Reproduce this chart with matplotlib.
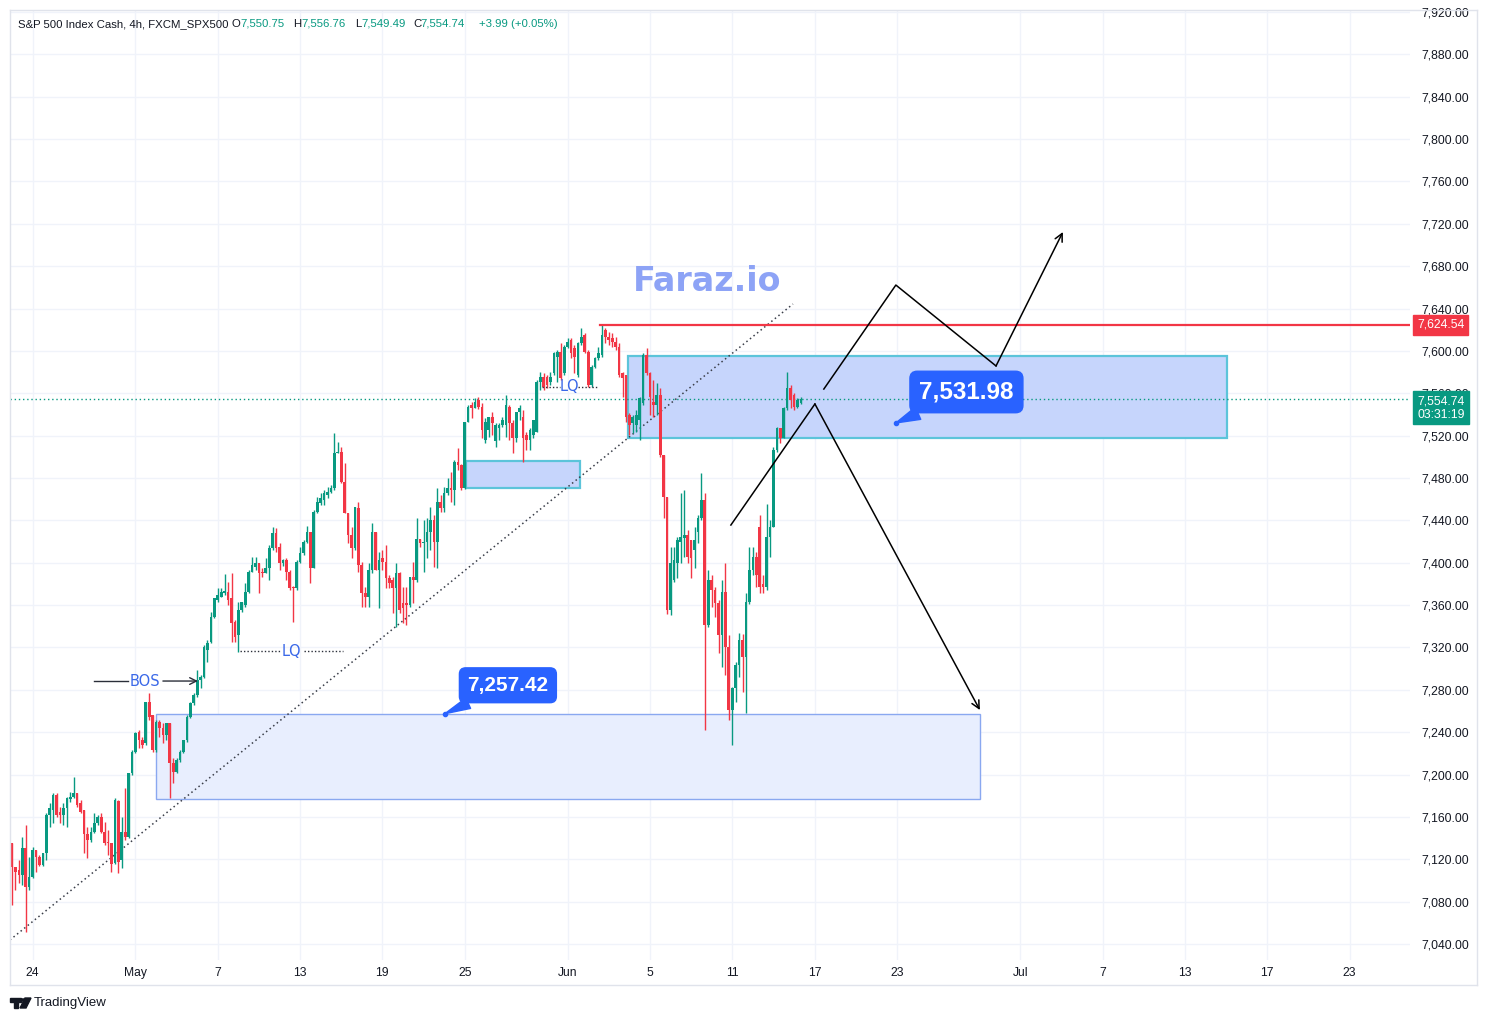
import matplotlib
matplotlib.use("Agg")
import matplotlib.pyplot as plt
import matplotlib.transforms as mtransforms
from matplotlib.patches import Rectangle, Polygon

# ---------------- data (4h candles, index 0 = Apr 23) ----------------
opens = [
    7135.0, 7113.0, 7109.9, 7105.0, 7130.3, 7094.0, 7103.6, 7128.7, 7122.4, 7114.6,
    7125.6, 7161.8, 7166.5, 7180.7, 7164.9, 7161.8, 7168.1, 7176.6, 7178.5, 7182.2,
    7172.8, 7166.5, 7143.8, 7138.2, 7146.0, 7153.9, 7159.6, 7146.0, 7136.6, 7135.0,
    7116.1, 7175.3, 7119.3, 7146.0, 7141.3, 7201.2, 7221.6, 7240.5, 7232.6, 7229.5,
    7268.8, 7256.2, 7223.2, 7249.9, 7243.7, 7237.4, 7248.4, 7210.6, 7202.7, 7213.8,
    7221.6, 7232.6, 7254.7, 7267.3, 7275.1, 7289.3, 7292.4, 7317.6, 7325.5, 7349.1,
    7364.8, 7368.0, 7371.1, 7372.7, 7366.4, 7344.4, 7331.8, 7355.4, 7360.1, 7372.7,
    7391.6, 7396.3, 7399.5, 7391.6, 7390.0, 7394.8, 7413.6, 7427.8, 7415.2, 7399.5,
    7402.7, 7391.6, 7377.5, 7376.0, 7401.1, 7408.9, 7420.0, 7429.4, 7394.8, 7448.3,
    7456.1, 7459.3, 7464.0, 7467.1, 7470.3, 7503.3, 7504.8, 7476.5, 7446.6, 7426.2,
    7413.6, 7451.3, 7397.8, 7371.1, 7368.0, 7393.1, 7429.3, 7393.1, 7404.1, 7401.0,
    7385.3, 7383.7, 7375.8, 7390.0, 7361.7, 7361.7, 7360.0, 7386.8, 7383.7, 7422.1,
    7418.3, 7419.9, 7429.3, 7440.3, 7419.9, 7457.6, 7451.3, 7465.5, 7470.3, 7468.6,
    7495.4, 7492.0, 7470.3, 7533.2, 7548.9, 7545.7, 7553.6, 7547.3, 7516.0, 7525.3,
    7537.9, 7515.0, 7527.0, 7530.0, 7530.0, 7547.3, 7531.6, 7517.4, 7542.6, 7537.9,
    7520.6, 7515.8, 7520.6, 7523.7, 7570.9, 7575.7, 7575.7, 7570.9, 7578.8, 7594.5,
    7599.3, 7578.8, 7604.0, 7610.3, 7602.4, 7577.2, 7607.1, 7615.0, 7599.3, 7567.8,
    7585.1, 7593.0, 7596.1, 7619.7, 7613.4, 7611.9, 7608.7, 7604.0, 7578.8, 7577.2,
    7539.4, 7531.6, 7530.0, 7534.7, 7550.5, 7596.1, 7578.8, 7552.0, 7548.9, 7558.3,
    7501.7, 7462.4, 7355.4, 7383.7, 7399.5, 7419.9, 7423.0, 7426.2, 7421.5, 7412.0,
    7429.3, 7441.9, 7459.2, 7341.2, 7383.7, 7374.3, 7361.7, 7331.8, 7372.7, 7320.8,
    7261.0, 7281.4, 7303.5, 7327.1, 7311.3, 7363.3, 7393.1, 7405.7, 7434.1, 7380.0,
    7377.5, 7424.6, 7434.1, 7506.4, 7526.9, 7517.4, 7545.7, 7564.6, 7558.3, 7547.3,
    7550.75,
]
highs = [
    7135.0, 7113.0, 7119.3, 7141.3, 7152.3, 7122.4, 7131.9, 7128.7, 7124.0, 7125.6,
    7163.3, 7172.8, 7182.2, 7182.2, 7169.6, 7172.8, 7179.1, 7183.8, 7198.0, 7182.2,
    7175.9, 7166.5, 7150.8, 7150.8, 7163.3, 7161.8, 7163.3, 7155.5, 7147.6, 7135.0,
    7177.5, 7175.9, 7160.2, 7187.0, 7201.2, 7223.2, 7240.5, 7242.0, 7235.8, 7268.8,
    7276.7, 7256.2, 7251.5, 7251.5, 7248.4, 7248.4, 7249.0, 7215.3, 7215.3, 7223.2,
    7233.0, 7256.2, 7268.8, 7276.7, 7298.7, 7294.0, 7322.3, 7327.1, 7353.8, 7366.4,
    7375.8, 7375.9, 7389.4, 7382.2, 7390.0, 7346.0, 7363.3, 7363.3, 7380.6, 7393.2,
    7405.8, 7405.8, 7399.5, 7394.8, 7404.2, 7416.8, 7434.1, 7432.5, 7418.3, 7404.0,
    7404.2, 7393.2, 7378.0, 7402.7, 7415.2, 7421.5, 7434.7, 7429.4, 7449.8, 7462.4,
    7465.6, 7468.7, 7471.9, 7473.4, 7522.2, 7514.3, 7509.6, 7493.8, 7446.6, 7434.1,
    7452.9, 7457.6, 7401.0, 7377.4, 7399.4, 7437.2, 7429.3, 7410.5, 7412.0, 7416.7,
    7388.4, 7386.8, 7399.4, 7391.5, 7377.4, 7377.4, 7386.8, 7401.0, 7442.5, 7422.1,
    7440.3, 7441.9, 7452.9, 7445.0, 7470.3, 7463.9, 7471.8, 7479.7, 7486.0, 7497.0,
    7508.0, 7493.0, 7533.2, 7548.9, 7552.0, 7555.2, 7556.8, 7551.0, 7536.3, 7537.9,
    7542.6, 7531.6, 7531.6, 7537.9, 7558.4, 7548.9, 7534.7, 7542.6, 7548.9, 7544.2,
    7523.7, 7526.9, 7534.7, 7572.5, 7580.4, 7578.8, 7577.0, 7580.4, 7599.3, 7600.8,
    7607.1, 7605.6, 7611.9, 7611.9, 7605.6, 7608.7, 7621.3, 7616.6, 7600.8, 7586.7,
    7594.5, 7604.0, 7624.5, 7621.3, 7618.2, 7616.6, 7613.4, 7607.1, 7580.4, 7577.2,
    7541.0, 7539.4, 7544.2, 7556.8, 7597.7, 7602.4, 7580.4, 7572.5, 7569.3, 7564.6,
    7501.7, 7462.4, 7415.2, 7415.2, 7424.6, 7465.5, 7468.6, 7430.9, 7421.5, 7434.1,
    7445.0, 7484.4, 7465.5, 7393.1, 7388.4, 7377.0, 7364.8, 7383.7, 7399.5, 7331.8,
    7283.0, 7306.6, 7333.4, 7333.0, 7371.1, 7415.2, 7415.2, 7410.5, 7445.0, 7388.0,
    7455.2, 7440.3, 7509.6, 7528.5, 7526.9, 7547.3, 7580.4, 7567.8, 7559.9, 7555.2,
    7556.76,
]
lows = [
    7076.8, 7091.0, 7097.3, 7095.7, 7051.6, 7091.0, 7102.0, 7108.3, 7113.6, 7113.6,
    7119.3, 7150.8, 7153.9, 7160.2, 7153.9, 7152.3, 7150.8, 7174.4, 7177.5, 7169.6,
    7163.3, 7125.6, 7120.9, 7136.6, 7144.5, 7152.3, 7144.5, 7133.5, 7124.0, 7108.3,
    7115.5, 7106.7, 7111.4, 7138.2, 7139.7, 7199.6, 7220.0, 7224.8, 7224.8, 7227.9,
    7251.5, 7221.6, 7221.6, 7235.8, 7230.0, 7233.0, 7177.6, 7191.7, 7201.0, 7212.2,
    7220.0, 7231.1, 7253.1, 7265.7, 7273.6, 7281.4, 7291.0, 7306.6, 7323.9, 7347.5,
    7363.0, 7368.0, 7369.6, 7360.1, 7325.5, 7325.5, 7316.1, 7353.9, 7358.6, 7371.1,
    7391.6, 7393.2, 7371.1, 7386.9, 7390.0, 7383.8, 7412.0, 7410.5, 7393.2, 7397.0,
    7383.8, 7374.3, 7344.4, 7374.3, 7399.5, 7407.3, 7418.4, 7380.6, 7394.8, 7446.7,
    7454.6, 7454.6, 7460.9, 7465.6, 7468.7, 7503.3, 7474.9, 7446.6, 7418.3, 7404.1,
    7412.0, 7391.5, 7358.5, 7358.5, 7358.5, 7390.0, 7393.1, 7356.9, 7393.1, 7375.8,
    7375.8, 7352.2, 7339.6, 7352.2, 7342.8, 7341.2, 7358.5, 7361.7, 7382.1, 7415.2,
    7391.5, 7404.1, 7412.0, 7396.3, 7394.7, 7448.2, 7448.2, 7464.0, 7457.6, 7454.5,
    7488.0, 7468.6, 7470.0, 7533.2, 7536.3, 7545.7, 7545.0, 7517.4, 7512.7, 7519.0,
    7520.6, 7509.6, 7515.8, 7528.5, 7519.0, 7515.8, 7503.3, 7514.3, 7534.7, 7495.4,
    7506.4, 7506.4, 7518.0, 7523.7, 7563.0, 7563.0, 7565.0, 7568.0, 7577.2, 7570.9,
    7572.5, 7577.2, 7602.4, 7593.0, 7578.8, 7575.7, 7605.6, 7597.7, 7566.2, 7566.2,
    7583.5, 7591.4, 7594.5, 7607.1, 7605.6, 7604.0, 7600.8, 7575.7, 7556.8, 7533.2,
    7520.6, 7522.2, 7523.7, 7515.8, 7548.9, 7577.2, 7539.4, 7537.9, 7539.4, 7500.1,
    7441.9, 7352.0, 7350.6, 7382.2, 7385.3, 7399.5, 7405.7, 7399.5, 7385.3, 7394.7,
    7418.3, 7440.3, 7242.1, 7339.6, 7358.5, 7349.1, 7314.5, 7301.9, 7294.0, 7251.5,
    7227.9, 7268.8, 7292.4, 7278.3, 7257.8, 7361.0, 7388.4, 7377.5, 7371.1, 7371.1,
    7374.3, 7405.7, 7434.1, 7504.8, 7512.7, 7517.4, 7544.2, 7545.7, 7544.2, 7545.7,
    7549.49,
]
closes = [
    7113.0, 7108.3, 7105.1, 7130.3, 7094.1, 7103.6, 7128.7, 7122.4, 7114.6, 7125.6,
    7161.8, 7168.1, 7180.7, 7161.8, 7161.8, 7168.1, 7177.5, 7179.1, 7182.2, 7171.2,
    7164.9, 7143.8, 7138.2, 7146.0, 7153.9, 7160.2, 7146.0, 7135.7, 7135.0, 7115.5,
    7175.9, 7117.7, 7146.0, 7140.7, 7201.1, 7221.6, 7238.9, 7232.6, 7227.9, 7268.8,
    7254.7, 7223.2, 7249.9, 7243.7, 7237.4, 7248.4, 7210.6, 7202.7, 7213.8, 7221.6,
    7232.6, 7254.7, 7267.3, 7275.1, 7289.3, 7292.4, 7320.8, 7323.9, 7349.1, 7366.4,
    7369.5, 7372.7, 7373.7, 7364.9, 7343.5, 7330.3, 7355.4, 7363.3, 7372.7, 7391.6,
    7397.9, 7399.5, 7390.0, 7390.0, 7394.8, 7413.6, 7427.8, 7413.6, 7399.5, 7402.7,
    7391.6, 7375.9, 7376.0, 7401.1, 7408.9, 7420.0, 7429.4, 7394.8, 7448.3, 7457.7,
    7460.8, 7465.6, 7467.1, 7470.3, 7503.3, 7504.8, 7476.5, 7446.6, 7426.2, 7413.6,
    7452.9, 7397.8, 7371.1, 7368.0, 7393.1, 7429.3, 7393.1, 7402.6, 7401.0, 7385.3,
    7380.5, 7375.8, 7390.0, 7355.4, 7356.9, 7360.0, 7386.8, 7383.7, 7422.1, 7418.3,
    7419.9, 7429.3, 7440.3, 7419.9, 7457.6, 7451.3, 7465.5, 7470.3, 7468.6, 7495.4,
    7492.0, 7470.3, 7533.2, 7547.3, 7545.7, 7552.0, 7547.3, 7525.3, 7533.2, 7537.9,
    7531.6, 7530.0, 7530.0, 7534.7, 7548.9, 7531.6, 7517.4, 7542.6, 7545.7, 7517.4,
    7515.8, 7525.3, 7534.7, 7570.9, 7575.7, 7566.2, 7567.8, 7575.7, 7597.7, 7599.3,
    7574.1, 7604.0, 7608.7, 7597.7, 7594.5, 7607.1, 7613.4, 7599.3, 7567.8, 7585.1,
    7593.0, 7597.7, 7615.0, 7613.4, 7610.3, 7608.7, 7604.0, 7577.2, 7574.1, 7537.9,
    7530.0, 7537.9, 7539.4, 7555.2, 7596.1, 7578.8, 7556.8, 7548.9, 7558.3, 7501.7,
    7462.4, 7355.4, 7399.5, 7402.6, 7421.5, 7424.6, 7426.2, 7405.7, 7404.1, 7421.5,
    7441.9, 7459.2, 7341.2, 7383.7, 7374.3, 7361.7, 7331.8, 7372.7, 7320.8, 7261.0,
    7281.4, 7303.5, 7327.1, 7311.3, 7363.3, 7393.1, 7405.7, 7388.4, 7377.5, 7377.5,
    7424.6, 7434.1, 7506.4, 7526.9, 7517.4, 7545.7, 7564.6, 7553.6, 7547.3, 7553.6,
    7554.74,
]

# time axis: trading-day number of each label (6 candles per trading day)
tick_days = [1, 6, 10, 14, 18, 22, 27, 31, 35, 39, 43, 49, 53, 57, 61, 65]
tick_labels = ["24", "May", "7", "13", "19", "25", "Jun", "5", "11", "17", "23",
               "Jul", "7", "13", "17", "23"]
price_ticks = list(range(7040, 7921, 40))

# levels and drawings (candle index, price)
last_price = 7554.74
resistance = 7624.54
resistance_start = 171.4
upper_zone = (179.6, 354.2, 7517.8, 7595.2)
small_zone = (132.4, 165.6, 7470.6, 7496.1)
lower_zone = (42.0, 282.2, 7176.9, 7257.42)
trend_line = [(-0.6, 7043.8), (227.7, 7644.3)]
path_down = [(209.6, 7435.6), (234.1, 7549.9), (282.2, 7260.9)]
path_up = [(236.7, 7564.0), (257.7, 7662.2), (286.9, 7585.8), (306.4, 7712.3)]
label_hi = (257.7, 7531.98)
label_lo = (126.2, 7257.42)
bos = (23.9, 33.8, 44.0, 54.2, 7288.3)
lq_low = (66.5, 78.1, 85.1, 96.5, 7316.3)
lq_high = (154.5, 159.8, 165.0, 170.5, 7566.0)

GREEN = "#089981"
RED = "#F23645"
BLUE = "#2962FF"
TXT = "#131722"
GRID = "#F0F3FA"
FONT = "Liberation Sans"

W, H = 1487, 1021
fig = plt.figure(figsize=(W / 100, H / 100), dpi=100)
fig.patch.set_facecolor("white")
ax = fig.add_axes([10 / W, 61 / H, 1400 / W, 950 / H])
ax.set_xlim(-0.58, 407.6)
ax.set_ylim(7024.9, 7921.9)
for s in ax.spines.values():
    s.set_visible(False)
ax.set_facecolor("white")

# grid
xt = [6 * d for d in tick_days]
for x in xt:
    ax.axvline(x, color=GRID, lw=1, zorder=0)
for p in price_ticks:
    ax.axhline(p, color=GRID, lw=1, zorder=0)

# zones
def zone(z, fc, ec, lw):
    x0, x1, y0, y1 = z
    ax.add_patch(Rectangle((x0, y0), x1 - x0, y1 - y0, facecolor=fc,
                           edgecolor=ec, lw=lw, zorder=1))

zone(lower_zone, "#E8EEFE", "#8AA8F0", 1.0)
zone(upper_zone, "#C6D5FC", "#5CC4DA", 1.6)
zone(small_zone, "#C6D5FC", "#5CC4DA", 1.6)

# trend line (dotted)
ax.plot([p[0] for p in trend_line], [p[1] for p in trend_line], color="#3A3E49",
        lw=1.1, ls=(0, (1, 2)), zorder=2)

# candles
for i in range(len(closes)):
    o, h, l, c = opens[i], highs[i], lows[i], closes[i]
    col = GREEN if c >= o else RED
    ax.vlines(i, min(l, o, c), max(h, o, c), color=col, lw=1.0, zorder=3)
    body = max(abs(c - o), 0.9)
    ax.bar(i, body, bottom=min(o, c), width=0.78, color=col, lw=0, zorder=4)

# resistance + last price line
ax.plot([resistance_start, 407.6], [resistance, resistance], color=RED, lw=1.6, zorder=5)
ax.axhline(last_price, color=GREEN, lw=1.0, ls=(0, (1, 2)), zorder=2)

# projection paths
arrow = dict(arrowstyle="->", color="black", lw=1.1, mutation_scale=14, shrinkA=0, shrinkB=0)
ax.plot([p[0] for p in path_down[:-1]], [p[1] for p in path_down[:-1]], color="black", lw=1.1, zorder=6)
ax.annotate("", xy=path_down[-1], xytext=path_down[-2], arrowprops=arrow, zorder=6)
ax.plot([p[0] for p in path_up[:-1]], [p[1] for p in path_up[:-1]], color="black", lw=1.1, zorder=6)
ax.annotate("", xy=path_up[-1], xytext=path_up[-2], arrowprops=arrow, zorder=6)

# BOS
ax.plot([bos[0], bos[1]], [bos[4], bos[4]], color="#2A2E39", lw=1.0, zorder=6)
ax.annotate("", xy=(bos[3], bos[4]), xytext=(bos[2], bos[4]),
            arrowprops=dict(arrowstyle="->", color="#2A2E39", lw=1.0, mutation_scale=12,
                            shrinkA=0, shrinkB=0), zorder=6)
ax.text((bos[1] + bos[2]) / 2, bos[4], "BOS", color="#3A68E8", fontsize=10.5,
        family="DejaVu Sans", ha="center", va="center", zorder=7)

# LQ
for lq in (lq_low, lq_high):
    ax.plot([lq[0], lq[1]], [lq[4], lq[4]], color="#2A2E39", lw=1.0, ls=(0, (1, 1.5)), zorder=6)
    ax.plot([lq[2], lq[3]], [lq[4], lq[4]], color="#2A2E39", lw=1.0, ls=(0, (1, 1.5)), zorder=6)
    ax.text((lq[1] + lq[2]) / 2, lq[4], "LQ", color="#3A68E8", fontsize=10.5,
            family="DejaVu Sans", ha="center", va="center", zorder=7)

# callout labels
def callout(anchor, txt, dx, dy, fs):
    ax.plot(*anchor, marker="o", ms=3, color=BLUE, zorder=8)
    ax.annotate(txt, xy=anchor, xytext=(dx, dy), textcoords="offset points",
                ha="center", va="center", color="white", fontsize=fs,
                fontweight="bold", family=FONT, zorder=9,
                bbox=dict(boxstyle="round,pad=0.38,rounding_size=0.3", fc=BLUE, ec=BLUE),
                arrowprops=dict(arrowstyle="wedge,tail_width=0.55,shrink_factor=0.5",
                                fc=BLUE, ec=BLUE, shrinkA=0, shrinkB=0))

callout(label_hi, "7,531.98", 50.8, 22.3, 17.5)
callout(label_lo, "7,257.42", 45.4, 20.5, 15)

# watermark
ax.text(0.498, 0.714, "Faraz.io", transform=ax.transAxes, color="#8DA3F6",
        fontsize=24, fontweight="bold", family="DejaVu Sans", ha="center",
        va="center", zorder=7)

# axes ticks
ax.set_xticks(xt)
ax.set_xticklabels(tick_labels)
ax.tick_params(axis="x", length=0, pad=5, labelsize=8.7, labelcolor=TXT)
ax.yaxis.tick_right()
ax.set_yticks(price_ticks)
ax.set_yticklabels([f"{p:,.2f}" for p in price_ticks])
ax.tick_params(axis="y", length=0, pad=7.9, labelsize=8.7, labelcolor=TXT)
for lab in ax.get_xticklabels() + ax.get_yticklabels():
    lab.set_family(FONT)

# price tags on the right scale
bt = mtransforms.blended_transform_factory(ax.transAxes, ax.transData)
ax.text(1.0052, resistance, f"{resistance:,.2f}", transform=bt, color="white",
        fontsize=8.8, family=FONT, ha="left", va="center", zorder=10, clip_on=False,
        bbox=dict(boxstyle="square,pad=0.32", fc=RED, ec=RED))
ax.text(1.0052, last_price - 8.5, f"{last_price:,.2f}\n03:31:19", transform=bt,
        color="white", fontsize=8.8, family=FONT, ha="left", va="center", zorder=10,
        clip_on=False, linespacing=1.15,
        bbox=dict(boxstyle="square,pad=0.32", fc=GREEN, ec=GREEN))

# frame lines
fl = dict(color="#E0E3EB", lw=1)
fig.add_artist(plt.Line2D([10 / W, 1477 / W], [1 - 10 / H, 1 - 10 / H], **fl))
fig.add_artist(plt.Line2D([10 / W, 1477 / W], [1 - 985 / H, 1 - 985 / H], **fl))
fig.add_artist(plt.Line2D([10 / W, 10 / W], [1 - 10 / H, 1 - 985 / H], **fl))
fig.add_artist(plt.Line2D([1477 / W, 1477 / W], [1 - 10 / H, 1 - 985 / H], **fl))

# header legend
hy = 1 - 24 / H
parts = [(18, "S&P 500 Index Cash, 4h, FXCM_SPX500", TXT), (232, "O", TXT),
         (240, "7,550.75", GREEN), (293, "H", TXT), (301, "7,556.76", GREEN),
         (355, "L", TXT), (361, "7,549.49", GREEN), (413, "C", TXT),
         (420, "7,554.74", GREEN), (479, "+3.99 (+0.05%)", GREEN)]
for x, t, c in parts:
    fig.text(x / W, hy, t, color=c, fontsize=8.2, family=FONT,
             ha="left", va="center")

# TradingView logo
logo_T = [(10, 998), (21, 998), (21, 1002), (18, 1002), (18, 1008), (14, 1008), (14, 1002), (10, 1002)]
logo_V = [(25, 998), (31, 998), (26, 1008), (20, 1008)]
for poly in (logo_T, logo_V):
    fig.add_artist(Polygon([(x / W, 1 - y / H) for x, y in poly], closed=True,
                           fc=TXT, ec=TXT, transform=fig.transFigure))
fig.add_artist(matplotlib.patches.Circle((23 / W, 1 - 1000 / H), 1.6 / W, fc=TXT,
                                         ec=TXT, transform=fig.transFigure))
fig.text(34 / W, 1 - 1003 / H, "TradingView", color=TXT, fontsize=9.5,
         family=FONT, ha="left", va="center")

fig.savefig("out.png", dpi=100, facecolor="white")
